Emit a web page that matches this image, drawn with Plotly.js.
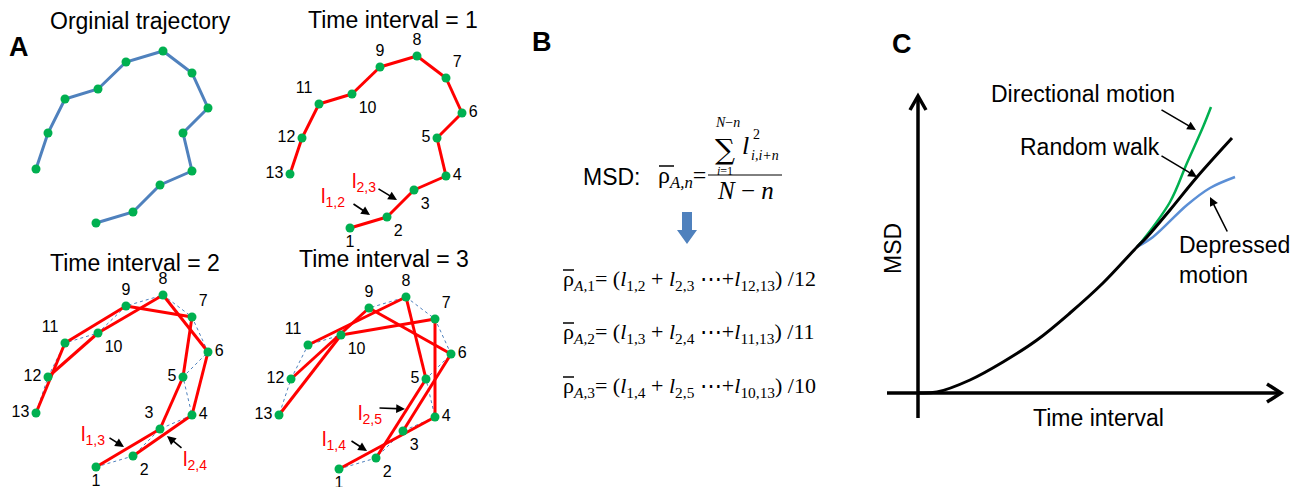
<!DOCTYPE html>
<html><head><meta charset="utf-8">
<script src="https://cdn.plot.ly/plotly-3.0.1.min.js"></script>
<style>html,body{margin:0;padding:0;background:#fff}#chart{width:1297px;height:487px}</style>
</head><body><div id="chart"></div>
<script>
const W = 1297, H = 487;

// ---- Panel A data: one trajectory of 13 points (local frame) ----
const trajX = [96, 133, 160, 192, 183, 208, 192, 163, 126, 98, 65, 48, 36];
const trajY = [223, 212, 185, 171, 133, 108, 73, 51, 62, 89, 99, 133, 169];
const pointLabels = ['1','2','3','4','5','6','7','8','9','10','11','12','13'];
const panelTitles = ['Orginial trajectory', 'Time interval = 1', 'Time interval = 2', 'Time interval = 3'];
const panelIntervals = [0, 1, 2, 3];

// ---- Panel B text ----
const eqLines = [
  'ρ<sub><i>A,</i>1</sub>= (<i>l</i><sub>1,2</sub> + <i>l</i><sub>2,3</sub> ⋯+<i>l</i><sub>12,13</sub>)<span> </span>/12',
  'ρ<sub><i>A,</i>2</sub>= (<i>l</i><sub>1,3</sub> + <i>l</i><sub>2,4</sub> ⋯+<i>l</i><sub>11,13</sub>)<span> </span>/11',
  'ρ<sub><i>A,</i>3</sub>= (<i>l</i><sub>1,4</sub> + <i>l</i><sub>2,5</sub> ⋯+<i>l</i><sub>10,13</sub>)<span> </span>/10'
];

// ---- Panel C data: MSD vs time interval ----
const randomX = [0, 19, 52, 85, 119, 152, 185, 219, 229, 252, 279, 314];
const randomY = [0, 1, 13, 31, 53, 80, 110, 146, 156, 183, 216, 255];
const directX = [219, 225, 252, 269, 285, 293];
const directY = [146, 153, 191, 230, 266, 286];
const depressX = [219, 235, 269, 292, 317];
const depressY = [146, 156, 188, 205, 216];

// ---- layout helpers ----
const SANS = 'Liberation Sans, Arial, sans-serif';
const SERIF = 'Liberation Serif, Times New Roman, serif';
const GREEN = '#00B050', BLUE = '#4F81BD', RED = '#FF0000';
const px = x => x / W, py = y => 1 - y / H;
const panelOffsets = [[0, 0], [254, 5], [0, 244], [243, 246]];
const labelPos = ['bottom center','bottom right','bottom right','middle right','middle left','middle right',
                  'top right','top center','top center','bottom right','top left','middle left','middle left'];

const traces = [];
const layout = {
  width: W, height: H, margin: {l: 0, r: 0, t: 0, b: 0},
  paper_bgcolor: '#fff', plot_bgcolor: 'rgba(0,0,0,0)', showlegend: false,
  annotations: [], shapes: []
};

panelIntervals.forEach((n, k) => {
  const sx = k === 0 ? '' : String(k + 1);
  const xa = 'x' + sx, ya = 'y' + sx;
  const [ox, oy] = panelOffsets[k];
  layout['xaxis' + sx] = {domain: [px(ox), px(ox + 260)], range: [0, 260], visible: false, fixedrange: true, anchor: ya};
  layout['yaxis' + sx] = {domain: [py(oy + 240), py(oy)], range: [240, 0], visible: false, fixedrange: true, anchor: xa};
  if (n === 0) {
    traces.push({x: trajX, y: trajY, xaxis: xa, yaxis: ya, mode: 'lines', line: {color: BLUE, width: 3}, hoverinfo: 'skip'});
  } else {
    if (n > 1) {
      traces.push({x: trajX, y: trajY, xaxis: xa, yaxis: ya, mode: 'lines', line: {color: BLUE, width: 1, dash: 'dot'}, hoverinfo: 'skip'});
    }
    const sxs = [], sys = [];
    for (let i = 0; i + n < trajX.length; i++) {
      sxs.push(trajX[i], trajX[i + n], null);
      sys.push(trajY[i], trajY[i + n], null);
    }
    traces.push({x: sxs, y: sys, xaxis: xa, yaxis: ya, mode: 'lines', line: {color: RED, width: 3}, connectgaps: false, hoverinfo: 'skip'});
  }
  const pos = labelPos.slice();
  if (n === 2) pos[2] = 'top left';
  traces.push({
    x: trajX, y: trajY, xaxis: xa, yaxis: ya,
    mode: n === 0 ? 'markers' : 'markers+text',
    text: n === 0 ? undefined : pointLabels, textposition: pos,
    textfont: {family: SANS, size: 16, color: '#000'},
    marker: {color: GREEN, size: 9}, cliponaxis: false, hoverinfo: 'skip'
  });
});

// Panel C axes
layout.xaxis5 = {domain: [px(880), px(1295)], range: [880 - 918, 1295 - 918], visible: false, fixedrange: true, anchor: 'y5'};
layout.yaxis5 = {domain: [py(425), py(85)], range: [393 - 425, 393 - 85], visible: false, fixedrange: true, anchor: 'x5'};
traces.push({x: directX, y: directY, xaxis: 'x5', yaxis: 'y5', mode: 'lines', line: {color: GREEN, width: 2.5, shape: 'spline'}, hoverinfo: 'skip'});
traces.push({x: depressX, y: depressY, xaxis: 'x5', yaxis: 'y5', mode: 'lines', line: {color: '#5B8FD6', width: 2.5, shape: 'spline'}, hoverinfo: 'skip'});
traces.push({x: randomX, y: randomY, xaxis: 'x5', yaxis: 'y5', mode: 'lines', line: {color: '#000', width: 3, shape: 'spline'}, hoverinfo: 'skip'});

const axLine = {color: '#000', width: 3.5};
layout.shapes.push(
  {type: 'line', xref: 'x5', yref: 'y5', x0: -31, y0: 0, x1: 363, y1: 0, line: axLine},
  {type: 'path', xref: 'x5', yref: 'y5', path: 'M 349 9 L 363 0 L 349 -9', line: axLine},
  {type: 'line', xref: 'x5', yref: 'y5', x0: 0, y0: -25, x1: 0, y1: 297, line: axLine},
  {type: 'path', xref: 'x5', yref: 'y5', path: 'M -8 283 L 0 297 L 8 283', line: axLine}
);

// Panel B shapes: fraction bar, overbars on rho, blue down arrow
function hbar(x0, x1, y, w) {
  layout.shapes.push({type: 'line', xref: 'paper', yref: 'paper', x0: px(x0), y0: py(y), x1: px(x1), y1: py(y), line: {color: '#000', width: w}});
}
hbar(708, 782, 175, 1);
hbar(659, 674, 166, 1.5);
[270, 323, 377].forEach(y => hbar(563, 574, y, 1.5));
layout.shapes.push(
  {type: 'path', xref: 'paper', yref: 'paper', fillcolor: BLUE, line: {width: 0},
   path: `M ${px(682)} ${py(212)} L ${px(692)} ${py(212)} L ${px(692)} ${py(230)} L ${px(697)} ${py(230)} L ${px(687)} ${py(244)} L ${px(677)} ${py(230)} L ${px(682)} ${py(230)} Z`}
);

function note(text, x, y, o = {}) {
  layout.annotations.push(Object.assign({
    text, x: px(x), y: py(y), xref: 'paper', yref: 'paper', showarrow: false,
    xanchor: 'center', yanchor: 'middle', font: {family: SANS, size: 23, color: '#000'}
  }, o));
}
function arrow(tx, ty, hx, hy) {
  layout.annotations.push({
    text: '', x: px(hx), y: py(hy), xref: 'paper', yref: 'paper', showarrow: true,
    ax: tx - hx, ay: ty - hy, arrowhead: 2, arrowsize: 1.1, arrowwidth: 1.6, arrowcolor: '#000', standoff: 0
  });
}

// panel letters
note('<b>A</b>', 19, 47, {font: {family: SANS, size: 27, color: '#000'}});
note('<b>B</b>', 542, 42, {font: {family: SANS, size: 27, color: '#000'}});
note('<b>C</b>', 902, 44, {font: {family: SANS, size: 27, color: '#000'}});

// panel A titles
const titlePos = [[140, 21], [393, 20], [135, 263], [384, 259]];
panelTitles.forEach((t, i) => note(t, titlePos[i][0], titlePos[i][1]));

// red segment labels + arrows
const redFont = {family: SANS, size: 20, color: RED};
note('l<sub>1,2</sub>', 333, 198, {font: redFont});
note('l<sub>2,3</sub>', 364, 182, {font: redFont});
arrow(352, 203, 370, 215);
arrow(377, 188, 397, 200);
note('l<sub>1,3</sub>', 93, 435, {font: redFont});
note('l<sub>2,4</sub>', 195, 460, {font: redFont});
arrow(108, 437, 124, 447);
arrow(183, 449, 167, 436);
note('l<sub>2,5</sub>', 370, 414, {font: redFont});
note('l<sub>1,4</sub>', 334, 440, {font: redFont});
arrow(378, 408, 405, 409);
arrow(350, 440, 367, 451);

// Panel B equation
note('MSD:', 612, 177);
note('ρ<sub><i>A,n</i></sub>=', 656, 177, {xanchor: 'left', font: {family: SERIF, size: 24, color: '#000'}});
note('∑', 725, 149, {font: {family: 'DejaVu Serif, serif', size: 28, color: '#000'}});
note('<i>N</i>−<i>n</i>', 727, 122, {font: {family: SERIF, size: 14, color: '#000'}});
note('<i>i</i>=1', 725, 171, {font: {family: SERIF, size: 12, color: '#000'}});
note('<i>l</i>', 745, 145, {font: {family: SERIF, size: 26, color: '#000'}});
note('2', 751, 135, {xanchor: 'left', font: {family: SERIF, size: 14, color: '#000'}});
note('<i>i,i+n</i>', 749, 155, {xanchor: 'left', font: {family: SERIF, size: 14, color: '#000'}});
note('<i>N</i> − <i>n</i>', 745, 190, {font: {family: SERIF, size: 25, color: '#000'}});
const eqY = [280, 333, 387];
eqLines.forEach((t, i) => note(t, 561, eqY[i], {xanchor: 'left', font: {family: SERIF, size: 22, color: '#000'}}));

// Panel C labels
note('Directional motion', 1083, 94);
note('Random walk', 1090, 147);
note('Depressed<br>motion', 1177, 260, {xanchor: 'left', align: 'left'});
note('MSD', 893, 249, {textangle: -90});
note('Time interval', 1098, 418);
arrow(1160, 109, 1196, 130);
arrow(1160, 155, 1197, 177);
arrow(1228, 233, 1210, 197);

Plotly.newPlot('chart', traces, layout, {staticPlot: true, displayModeBar: false});
</script>
</body></html>
